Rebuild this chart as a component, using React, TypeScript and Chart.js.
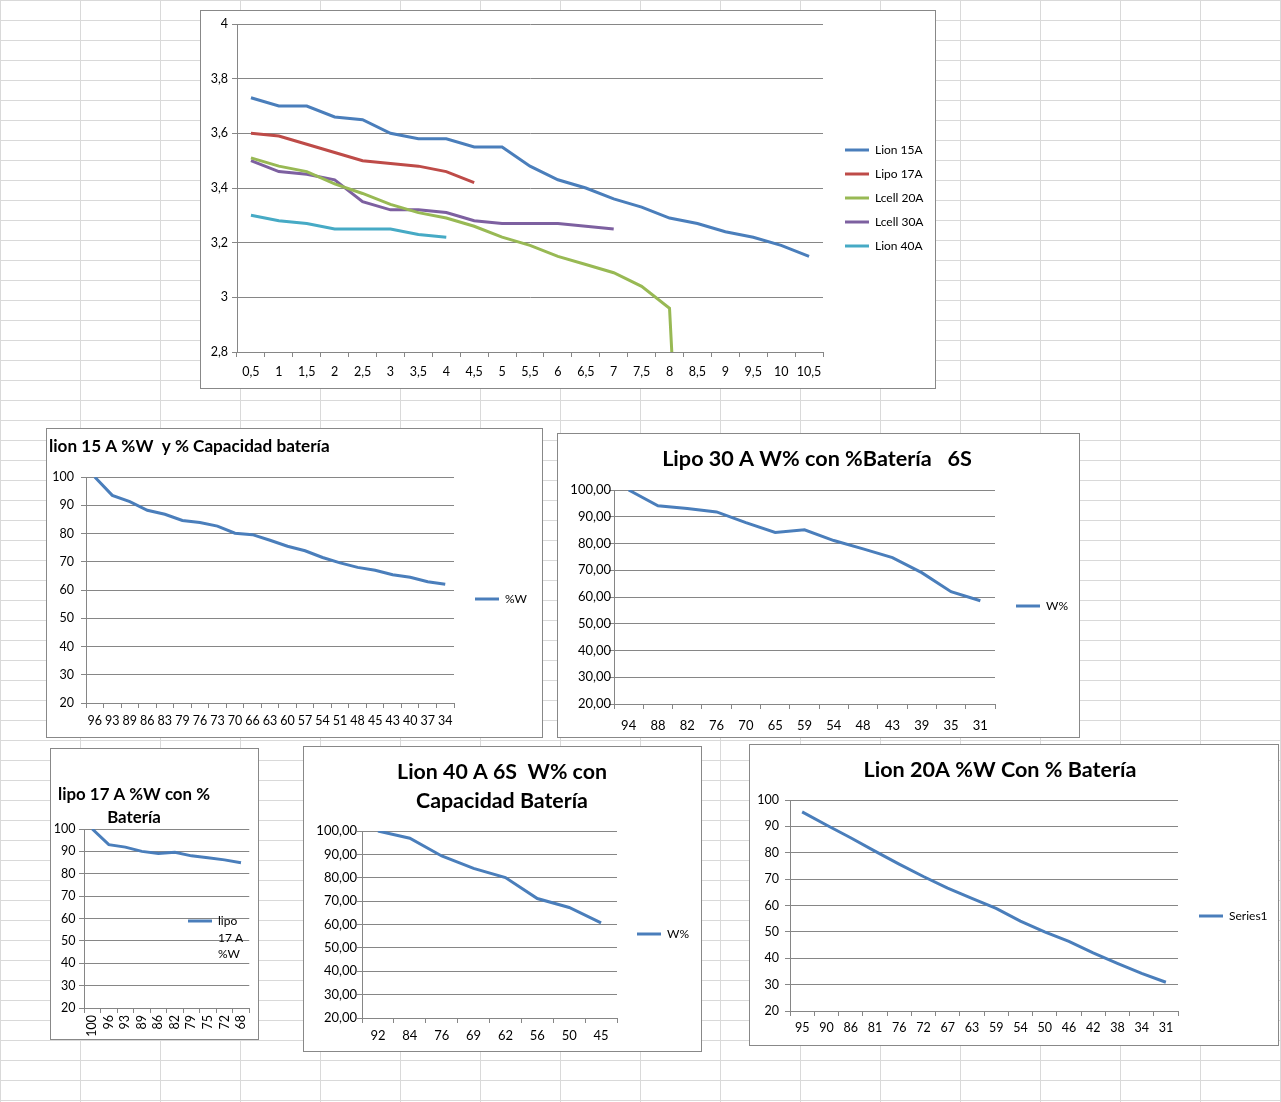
import { useEffect, useRef } from 'react';
import { Chart, registerables } from 'chart.js';

Chart.register(...registerables);

const FONT = 'Lato, "Open Sans", sans-serif';
const AXIS = '#868686';
const TICK = 12.5;
const LEGEND = 12;

const BLUE = '#4a7ebb';
const RED = '#be4b48';
const GREEN = '#98b954';
const PURPLE = '#7d60a0';
const CYAN = '#46aac5';

// voltage vs time chart
const hours = ['0,5', '1', '1,5', '2', '2,5', '3', '3,5', '4', '4,5', '5', '5,5', '6', '6,5', '7', '7,5', '8', '8,5', '9', '9,5', '10', '10,5'];
const lion15A = [3.73, 3.7, 3.7, 3.66, 3.65, 3.6, 3.58, 3.58, 3.55, 3.55, 3.48, 3.43, 3.4, 3.36, 3.33, 3.29, 3.27, 3.24, 3.22, 3.19, 3.15];
const lipo17A = [3.6, 3.59, 3.56, 3.53, 3.5, 3.49, 3.48, 3.46, 3.42];
const lcell20A = [3.51, 3.48, 3.46, 3.415, 3.38, 3.34, 3.31, 3.29, 3.26, 3.22, 3.19, 3.15, 3.12, 3.09, 3.04, 2.96, 1.0];
const lcell30A = [3.5, 3.46, 3.45, 3.43, 3.35, 3.32, 3.32, 3.31, 3.28, 3.27, 3.27, 3.27, 3.26, 3.25];
const lion40A = [3.3, 3.28, 3.27, 3.25, 3.25, 3.25, 3.23, 3.22];

// lion 15 A
const cap15 = ['96', '93', '89', '86', '83', '79', '76', '73', '70', '66', '63', '60', '57', '54', '51', '48', '45', '43', '40', '37', '34'];
const w15 = [100, 93.5, 91.3, 88.2, 86.8, 84.6, 83.9, 82.6, 80.1, 79.6, 77.6, 75.5, 73.9, 71.5, 69.6, 68.0, 67.0, 65.4, 64.5, 62.9, 62.0];

// lipo 30 A
const cap30 = ['94', '88', '82', '76', '70', '65', '59', '54', '48', '43', '39', '35', '31'];
const w30 = [100, 94.1, 93.1, 91.8, 87.8, 84.1, 85.1, 81.1, 78.0, 74.7, 69.1, 62.0, 58.6];

// lipo 17 A
const cap17 = ['100', '96', '93', '89', '86', '82', '79', '75', '72', '68'];
const w17 = [100, 93.0, 91.9, 90.0, 89.1, 89.6, 88.0, 87.1, 86.2, 84.9];

// lion 40 A
const cap40 = ['92', '84', '76', '69', '62', '56', '50', '45'];
const w40 = [100, 96.9, 89.3, 84.0, 80.1, 71.1, 67.3, 60.7];

// lion 20 A
const cap20 = ['95', '90', '86', '81', '76', '72', '67', '63', '59', '54', '50', '46', '42', '38', '34', '31'];
const w20 = [95.5, 90.5, 85.7, 80.6, 75.7, 71.0, 66.6, 62.7, 58.9, 54.1, 50.0, 46.4, 42.0, 38.1, 34.3, 30.9];

const comma1 = (v: number) => String(Math.round(v * 10) / 10).replace('.', ',');
const comma2 = (v: number) => v.toFixed(2).replace('.', ',');
const whole = (v: number) => String(Math.round(v));

// puts the legend / title where Excel had them once layout is done
const placeBlocks = {
  id: 'placeBlocks',
  afterLayout(chart: any, _args: any, opts: any) {
    const lg = chart.legend;
    if (lg) {
      lg.left = opts.lx - opts.pad;
      lg.right = chart.width;
      lg.top = opts.ly - opts.pad - opts.fs / 2;
      lg.bottom = chart.height;
    }
    const tb = chart.titleBlock;
    if (tb && opts.shift) {
      tb.left += opts.shift;
      tb.right += opts.shift;
    }
  },
};

function fitSize(text: string, width: number) {
  const ctx = document.createElement('canvas').getContext('2d');
  if (!ctx) return 16;
  ctx.font = `bold 100px ${FONT}`;
  return (100 * width) / ctx.measureText(text).width;
}

type Series = { label: string | string[]; data: number[]; color: string };
type TitleSpec = { lines: string[]; width: number; x: number; y: number; align?: 'start' | 'center'; lh?: number };
type Props = {
  box: number[];
  plot: number[];
  labels: string[];
  series: Series[];
  y: number[];
  fmt: (v: number) => string;
  title?: TitleSpec;
  legend: number[];
  legendGap?: number;
  legendLh?: number;
  yPad: number;
  xPad: number;
  rotate?: number;
  tickSize?: number;
};

const ExcelChart = (p: Props) => {
  const chartRef = useRef<HTMLCanvasElement | null>(null);
  const [l, t, r, b] = p.box;
  const w = r - l - 1;
  const h = b - t - 1;

  useEffect(() => {
    if (!chartRef.current) return;
    const ctx = chartRef.current.getContext('2d');
    if (!ctx) return;

    const ox = l + 1;
    const oy = t + 1;
    const pl = p.plot[0] - ox;
    const pt = p.plot[1] - oy;
    const pr = p.plot[2] - ox;
    const pb = p.plot[3] - oy;
    const padRight = w - pr;
    const tickFont = { family: FONT, size: p.tickSize ?? TICK };
    const gap = p.legendGap ?? 10;

    let title: any = { display: false };
    let shift = 0;
    if (p.title) {
      const tt = p.title;
      const size = fitSize(tt.lines[0], tt.width);
      const lh = tt.lh ?? size * 1.2;
      const top = tt.y - oy - lh / 2;
      title = {
        display: true,
        text: tt.lines,
        align: tt.align ?? 'center',
        color: '#000',
        font: { family: FONT, weight: 'bold', size, lineHeight: `${lh}px` },
        padding: { top, bottom: pt - top - lh * tt.lines.length },
      };
      shift = tt.align === 'start' ? tt.x - ox : tt.x - ox - (w - padRight) / 2;
    }

    const rot = p.rotate ?? 0;

    const myChart = new Chart(ctx, {
      type: 'line',
      data: {
        labels: p.labels,
        datasets: p.series.map((s) => ({
          label: s.label as any,
          data: s.data,
          borderColor: s.color,
          backgroundColor: s.color,
          borderWidth: 3,
          pointRadius: 0,
          tension: 0,
          fill: false,
        })),
      },
      options: {
        responsive: false,
        animation: false,
        events: [],
        layout: { padding: { left: 0, top: p.title ? 0 : pt, right: padRight, bottom: 0 } },
        scales: {
          x: {
            type: 'category',
            offset: true,
            grid: { offset: true, drawOnChartArea: false, tickLength: 5, color: AXIS },
            border: { color: AXIS },
            ticks: { autoSkip: false, minRotation: rot, maxRotation: rot, padding: p.xPad, color: '#000', font: tickFont },
            afterFit: (s: any) => {
              s.height = h - pb;
            },
          },
          y: {
            type: 'linear',
            min: p.y[0],
            max: p.y[1],
            grid: { color: AXIS, tickLength: 5 },
            border: { color: AXIS },
            ticks: {
              stepSize: p.y[2],
              padding: p.yPad,
              color: '#000',
              font: tickFont,
              callback: (v: any) => p.fmt(Number(v)),
            },
            afterFit: (s: any) => {
              s.width = pl;
            },
          },
        },
        plugins: {
          title,
          tooltip: { enabled: false },
          legend: {
            position: 'chartArea',
            align: 'start',
            labels: {
              usePointStyle: true,
              pointStyle: 'line',
              pointStyleWidth: 24,
              padding: gap,
              color: '#000',
              font: { family: FONT, size: LEGEND, lineHeight: p.legendLh ?? 1.2 },
            },
          },
          placeBlocks: { lx: p.legend[0] - ox, ly: p.legend[1] - oy, pad: gap, fs: LEGEND, shift },
        } as any,
      } as any,
      plugins: [placeBlocks],
    });

    return () => myChart.destroy();
  }, []);

  return (
    <div
      style={{
        position: 'absolute',
        left: l,
        top: t,
        width: r - l + 1,
        height: b - t + 1,
        boxSizing: 'border-box',
        border: '1px solid #888',
        background: '#fff',
      }}
    >
      <canvas ref={chartRef} width={w} height={h} style={{ display: 'block', width: w, height: h }} />
    </div>
  );
};

const App = () => {
  return (
    <div
      style={{
        position: 'relative',
        width: 1281,
        height: 1102,
        overflow: 'hidden',
        backgroundColor: '#fff',
        backgroundImage:
          'linear-gradient(to right, #d9d9d9 1px, transparent 1px), linear-gradient(to bottom, #d9d9d9 1px, transparent 1px)',
        backgroundSize: '80px 20px',
      }}
    >
      <style>{'body { margin: 0; overflow: hidden; }'}</style>

      <ExcelChart
        box={[200, 10, 935, 388]}
        plot={[237, 24, 823, 352]}
        labels={hours}
        series={[
          { label: 'Lion 15A', data: lion15A, color: BLUE },
          { label: 'Lipo 17A', data: lipo17A, color: RED },
          { label: 'Lcell 20A', data: lcell20A, color: GREEN },
          { label: 'Lcell 30A', data: lcell30A, color: PURPLE },
          { label: 'Lion 40A', data: lion40A, color: CYAN },
        ]}
        y={[2.8, 4, 0.2]}
        fmt={comma1}
        legend={[845, 150]}
        legendGap={12}
        yPad={4}
        xPad={7}
      />

      <ExcelChart
        box={[46, 428, 542, 737]}
        plot={[86, 477, 454, 703]}
        labels={cap15}
        series={[{ label: '%W', data: w15, color: BLUE }]}
        y={[20, 100, 10]}
        fmt={whole}
        title={{ lines: ['lion 15 A %W  y % Capacidad batería'], width: 281, x: 49, y: 446, align: 'start' }}
        legend={[475, 599]}
        yPad={7}
        xPad={5}
      />

      <ExcelChart
        box={[557, 433, 1079, 737]}
        plot={[614, 490, 995, 704]}
        labels={cap30}
        series={[{ label: 'W%', data: w30, color: BLUE }]}
        y={[20, 100, 10]}
        fmt={comma2}
        title={{ lines: ['Lipo 30 A W% con %Batería   6S'], width: 310, x: 817, y: 459 }}
        legend={[1016, 606]}
        yPad={-2}
        xPad={9}
        tickSize={13}
      />

      <ExcelChart
        box={[50, 748, 258, 1039]}
        plot={[84, 829, 258, 1008]}
        labels={cap17}
        series={[{ label: ['lipo', '17 A', '%W'], data: w17, color: BLUE }]}
        y={[20, 100, 10]}
        fmt={whole}
        title={{ lines: ['lipo 17 A %W con %', 'Batería'], width: 152, x: 134, y: 795, lh: 23 }}
        legend={[188, 921]}
        legendLh={1.4}
        yPad={3.6}
        xPad={2}
        rotate={90}
      />

      <ExcelChart
        box={[303, 746, 701, 1051]}
        plot={[362, 831, 617, 1018]}
        labels={cap40}
        series={[{ label: 'W%', data: w40, color: BLUE }]}
        y={[20, 100, 10]}
        fmt={comma2}
        title={{ lines: ['Lion 40 A 6S  W% con', 'Capacidad Batería'], width: 210, x: 502, y: 772, lh: 29.3 }}
        legend={[637, 934]}
        yPad={0}
        xPad={5}
        tickSize={13}
      />

      <ExcelChart
        box={[749, 744, 1278, 1045]}
        plot={[790, 800, 1178, 1011]}
        labels={cap20}
        series={[{ label: 'Series1', data: w20, color: BLUE }]}
        y={[20, 100, 10]}
        fmt={whole}
        title={{ lines: ['Lion 20A %W Con % Batería'], width: 273, x: 1000, y: 770 }}
        legend={[1199, 916]}
        yPad={6}
        xPad={4}
      />
    </div>
  );
};

export default App;
